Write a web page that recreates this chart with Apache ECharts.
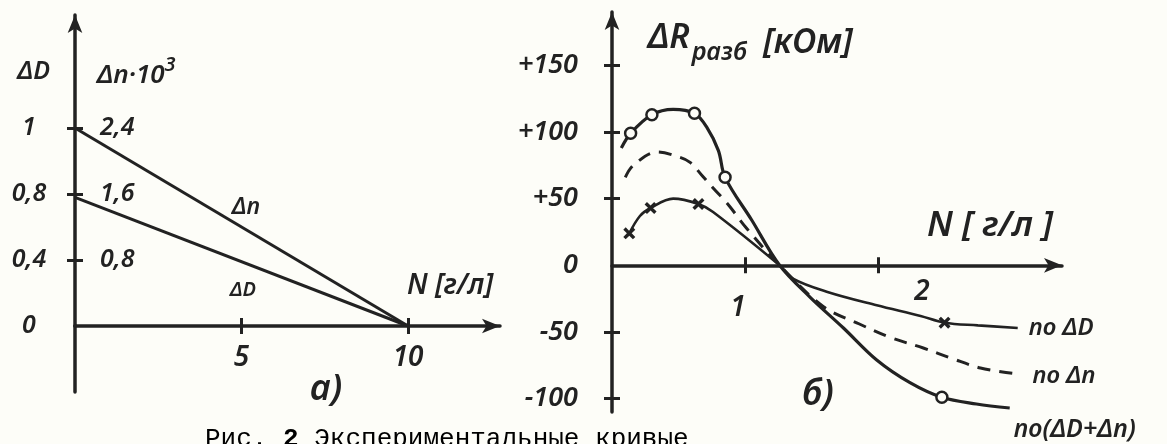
<!DOCTYPE html>
<html><head><meta charset="utf-8">
<script src="https://cdn.jsdelivr.net/npm/echarts@6/dist/echarts.min.js"></script>
<style>html,body{margin:0;padding:0;background:#fdfdf8}#c{width:1167px;height:444px}</style>
</head><body><div id="c"></div>
<script>
// ---------- panel а) ----------
const leftN = [0, 10];                 // N [г/л]
const leftDn = [2.4, 0];               // Δn·10³
const leftDD = [1.56, 0];              // ΔD line, plotted on the Δn·10³ scale
const leftXTicks = [5, 10];
const leftYTicks = [0.8, 1.6, 2.4];
const leftDDTickLabels = ['0', '0,4', '0,8', '1'];      // at 0, 0.8, 1.6, 2.4
const leftDnTickLabels = ['0,8', '1,6', '2,4'];         // at 0.8, 1.6, 2.4

// ---------- panel б) ----------
const sumN = [0.07, 0.14, 0.30, 0.46, 0.62, 0.71, 0.80, 0.85, 1.05, 1.26, 1.49, 1.74, 1.99, 2.24, 2.48, 2.74, 2.99];
const sumR = [88, 99, 113, 117, 114, 104, 86, 66, 34, 0, -24, -47, -71, -88, -99, -104, -107];
const sumMeasured = [1, 2, 4, 7, 14];      // indices of measured points (circles)

const dnN = [0.10, 0.16, 0.34, 0.51, 0.59, 0.68, 0.76, 0.87, 1.01, 1.26, 1.59, 1.86, 2.09, 2.34, 2.56, 2.77, 3.01];
const dnR = [66, 75, 85, 81, 77, 67, 58, 46, 28, 0, -31, -44, -54, -62, -70, -77, -81];

const ddN = [0.13, 0.21, 0.29, 0.46, 0.65, 0.76, 1.26, 1.36, 1.62, 1.99, 2.32, 2.50, 2.75, 3.05];
const ddR = [24, 37, 43, 50, 46, 40, 0, -10, -20, -30, -38, -43, -45, -47];
const ddMeasured = [0, 2, 4, 11];          // indices of measured points (crosses)

const rightXTicks = [1, 2];
const rightYTicks = [-100, -50, 50, 100, 150];
const rightYLabels = [-100, -50, 0, 50, 100, 150];

const BG = '#fdfdf8';
const INK = '#222';
const HF = '"Noto Sans", "DejaVu Sans", sans-serif';
const f = (s) => ({ fontFamily: HF, fontStyle: 'italic', fontWeight: 600, fontSize: s, color: INK });
const CROSS = 'path://M2,0 L5,3 L8,0 L10,2 L7,5 L10,8 L8,10 L5,7 L2,10 L0,8 L3,5 L0,2 Z';

function pts(xs, ys, marked, sym, size) {
  return xs.map((x, i) => marked && marked.includes(i)
    ? { value: [x, ys[i]], symbol: sym, symbolSize: size }
    : { value: [x, ys[i]], symbol: 'none' });
}

const LINE = { color: INK, width: 3.5 };
const arrowLine = { show: true, onZero: false, symbol: ['none', 'arrow'], symbolSize: [11, 18], lineStyle: LINE };
const plainLine = { show: true, onZero: false, lineStyle: LINE };
const noLine = { show: false, onZero: false };
const tick = (vals, inside) => ({ show: true, inside: inside, length: 8, customValues: vals, lineStyle: { color: INK, width: 3 } });
const off = { axisLine: noLine, axisTick: { show: false }, axisLabel: { show: false }, splitLine: { show: false } };

// grid 0: panel а) above zero; grid 1: y-axis stub below zero;
// grid 2: panel б) x-axis (upper half); grid 3: panel б) data (full range)
const grids = [
  { left: 75, top: 15, width: 425, height: 311, outerBoundsMode: 'none' },
  { left: 75, top: 326, width: 425, height: 66, outerBoundsMode: 'none' },
  { left: 612, top: 12, width: 450, height: 253.33, outerBoundsMode: 'none' },
  { left: 612, top: 12, width: 450, height: 400, outerBoundsMode: 'none' }
];

const chart = echarts.init(document.getElementById('c'), null, { renderer: 'canvas' });
chart.setOption({
  backgroundColor: BG,
  animation: false,
  grid: grids,
  xAxis: [
    { gridIndex: 0, type: 'value', position: 'bottom', min: 0, max: 12.76,
      axisLine: arrowLine, axisTick: tick(leftXTicks, false), splitLine: { show: false },
      axisLabel: Object.assign({ customValues: leftXTicks, margin: 18 }, f(28)),
      name: 'N [г/л]', nameLocation: 'end', nameGap: -93,
      nameTextStyle: Object.assign({ align: 'left', verticalAlign: 'bottom', padding: [0, 0, 26, 0] }, f(28)) },
    { gridIndex: 0, type: 'value', position: 'bottom', min: 0, max: 12.76,
      axisLine: noLine, axisTick: tick(leftXTicks, true), axisLabel: { show: false }, splitLine: { show: false } },
    Object.assign({ gridIndex: 1, type: 'value', min: 0, max: 1 }, off),
    { gridIndex: 2, type: 'value', position: 'bottom', min: 0, max: 3.383,
      axisLine: arrowLine, axisTick: tick(rightXTicks, false), splitLine: { show: false },
      axisLabel: { customValues: rightXTicks, margin: 8,
        formatter: (v) => v === 1 ? '{p1|1}' : '{p2|2}',
        rich: { p1: Object.assign({ padding: [21, 14, 0, 0] }, f(28)), p2: Object.assign({ padding: [5, 0, 0, 88] }, f(28)) } },
      name: 'N [ г/л ]', nameLocation: 'end', nameGap: -135,
      nameTextStyle: Object.assign({ align: 'left', verticalAlign: 'bottom', padding: [0, 0, 22, 0] }, f(35)) },
    { gridIndex: 2, type: 'value', position: 'bottom', min: 0, max: 3.383,
      axisLine: noLine, axisTick: tick(rightXTicks, true), axisLabel: { show: false }, splitLine: { show: false } },
    Object.assign({ gridIndex: 3, type: 'value', min: 0, max: 3.383 }, off)
  ],
  yAxis: [
    { gridIndex: 0, type: 'value', position: 'left', min: 0, max: 3.77, interval: 0.8,
      axisLine: arrowLine, axisTick: tick(leftYTicks, false), splitLine: { show: false },
      axisLabel: Object.assign({ customValues: [0, 0.8, 1.6, 2.4], margin: 46, align: 'center',
        formatter: (v) => leftDDTickLabels[Math.round(v / 0.8)] }, f(25)),
      name: 'ΔD', nameLocation: 'end', nameGap: -57,
      nameTextStyle: Object.assign({ align: 'right', verticalAlign: 'middle', padding: [0, 25, 0, 0] }, f(25)) },
    { gridIndex: 0, type: 'value', position: 'left', min: 0, max: 3.77, interval: 0.8,
      axisLine: noLine, axisTick: tick(leftYTicks, true), splitLine: { show: false },
      axisLabel: Object.assign({ inside: true, customValues: leftYTicks, margin: 25,
        formatter: (v) => leftDnTickLabels[Math.round(v / 0.8) - 1] }, f(25)),
      name: '{a|Δn·10}{s|3}', nameLocation: 'end', nameGap: -57,
      nameTextStyle: { align: 'left', verticalAlign: 'middle', padding: [0, 0, 0, 22],
        rich: { a: Object.assign({ lineHeight: 34, verticalAlign: 'bottom' }, f(26)), s: Object.assign({ verticalAlign: 'top' }, f(20)) } } },
    { gridIndex: 1, type: 'value', position: 'left', min: 0, max: 1,
      axisLine: plainLine, axisTick: { show: false }, axisLabel: { show: false }, splitLine: { show: false } },
    Object.assign({ gridIndex: 2, type: 'value', min: 0, max: 190 }, off),
    { gridIndex: 3, type: 'value', position: 'left', min: -110, max: 190,
      axisLine: arrowLine, axisTick: tick(rightYTicks, false), splitLine: { show: false },
      axisLabel: Object.assign({ customValues: rightYLabels, margin: 34,
        formatter: (v) => v > 0 ? '+' + v : String(v) }, f(27)),
      name: '{a|ΔR}{b|разб}{c|[кОм]}', nameLocation: 'end', nameGap: -31,
      nameTextStyle: { align: 'left', verticalAlign: 'middle', padding: [0, 0, 0, 36],
        rich: { a: Object.assign({ lineHeight: 44, verticalAlign: 'top' }, f(34)),
                b: Object.assign({ verticalAlign: 'bottom', padding: [0, 16, 0, 2] }, f(25)),
                c: Object.assign({ verticalAlign: 'middle' }, f(34)) } } },
    { gridIndex: 3, type: 'value', position: 'left', min: -110, max: 190,
      axisLine: noLine, axisTick: tick(rightYTicks, true), axisLabel: { show: false }, splitLine: { show: false } }
  ],
  series: [
    { type: 'line', name: 'Δn', xAxisIndex: 0, yAxisIndex: 0, symbol: 'none',
      lineStyle: { color: INK, width: 3 }, data: leftN.map((x, i) => [x, leftDn[i]]) },
    { type: 'line', name: 'ΔD', xAxisIndex: 0, yAxisIndex: 0, symbol: 'none',
      lineStyle: { color: INK, width: 3 }, data: leftN.map((x, i) => [x, leftDD[i]]) },
    { type: 'line', name: 'по ΔD', xAxisIndex: 5, yAxisIndex: 4, smooth: 0.35, showSymbol: true,
      lineStyle: { color: INK, width: 2.6 }, itemStyle: { color: INK },
      data: pts(ddN, ddR, ddMeasured, CROSS, 12),
      endLabel: Object.assign({ show: true, formatter: '{a}', offset: [3, 0] }, f(24)) },
    { type: 'line', name: 'по Δn', xAxisIndex: 5, yAxisIndex: 4, smooth: 0.35, symbol: 'none',
      lineStyle: { color: INK, width: 3, type: [13, 9] },
      data: dnN.map((x, i) => [x, dnR[i]]),
      endLabel: Object.assign({ show: true, formatter: '{a}', offset: [12, 3] }, f(24)) },
    { type: 'line', name: 'по(ΔD+Δn)', xAxisIndex: 5, yAxisIndex: 4, smooth: 0.35, showSymbol: true,
      lineStyle: { color: INK, width: 3.2 }, itemStyle: { color: BG, borderColor: INK, borderWidth: 2.5 },
      data: pts(sumN, sumR, sumMeasured, 'circle', 11),
      endLabel: Object.assign({ show: true, formatter: '{a}', offset: [-4, 22] }, f(25)) }
  ],
  graphic: [
    { type: 'text', x: 232, y: 207, style: { text: 'Δn', align: 'left', verticalAlign: 'middle', font: 'italic 600 23px ' + HF, fill: INK } },
    { type: 'text', x: 230, y: 290, style: { text: 'ΔD', align: 'left', verticalAlign: 'middle', font: 'italic 600 20px ' + HF, fill: INK } },
    { type: 'text', x: 310, y: 390, style: { text: 'а)', align: 'left', verticalAlign: 'middle', font: 'italic 600 36px ' + HF, fill: INK } },
    { type: 'text', x: 802, y: 395, style: { text: 'б)', align: 'left', verticalAlign: 'middle', font: 'italic 600 36px ' + HF, fill: INK } },
    { type: 'text', x: 205, y: 426, style: { text: '{a|Рис. }{b|2}{a| Экспериментальные кривые}', verticalAlign: 'top',
      rich: { a: { fontFamily: '"Liberation Mono", monospace', fontSize: 26, color: '#555' },
              b: { fontFamily: '"Liberation Mono", monospace', fontSize: 26, fontWeight: 'bold', color: '#333' } } } }
  ]
});
</script></body></html>
